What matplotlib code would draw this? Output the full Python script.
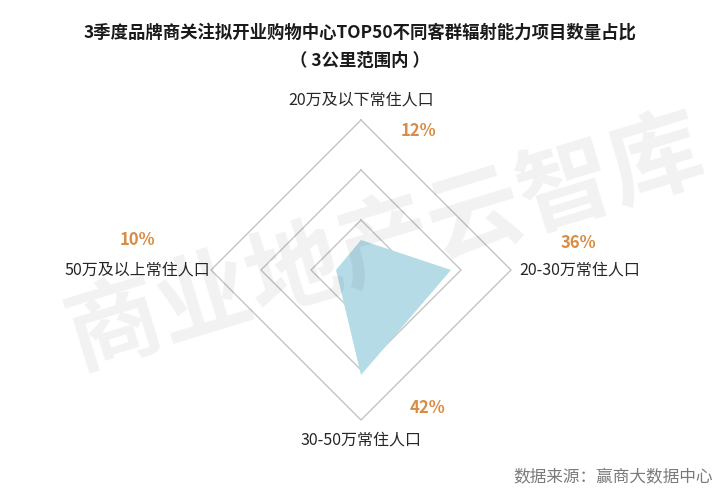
import numpy as np
import matplotlib
matplotlib.use('Agg')
import matplotlib.pyplot as plt

plt.rcParams['font.family'] = ['Noto Sans CJK SC', 'DejaVu Sans']

# data
categories = ['20万及以下常住人口', '20-30万常住人口', '30-50万常住人口', '50万及以上常住人口']
values = [0.12, 0.36, 0.42, 0.10]
value_labels = ['12%', '36%', '42%', '10%']
grid_levels = [0.2, 0.4, 0.6]

title = '3季度品牌商关注拟开业购物中心TOP50不同客群辐射能力项目数量占比\n（ 3公里范围内 ）'
source = '数据来源：赢商大数据中心'
watermark = '商业地产云智库'

# axes clockwise from top
angles = np.pi / 2 - np.arange(len(categories)) * np.pi / 2

fig = plt.figure(figsize=(7.2, 4.9), dpi=100)
ax = fig.add_axes([0, 0, 1, 1])
ax.set_xlim(-1.444, 1.436)
ax.set_ylim(-0.88, 1.08)
ax.axis('off')

# diamond grid
for lv in grid_levels:
    gx = np.append(lv * np.cos(angles), lv * np.cos(angles[0]))
    gy = np.append(lv * np.sin(angles), lv * np.sin(angles[0]))
    ax.plot(gx, gy, color='#c4c4c4', lw=1.0, zorder=1)

# data polygon
vals = np.array(values)
ax.fill(vals * np.cos(angles), vals * np.sin(angles), color='#b5dbe7', lw=0, zorder=2)

# category labels
lab_r = [0.68, 0.876, 0.68, 0.896]
for cat, a, r in zip(categories, angles, lab_r):
    ax.text(r * np.cos(a), r * np.sin(a), cat, ha='center', va='center',
            fontsize=11.5, color='#262626', zorder=4)

# percentage labels
pct_pos = [(0.228, 0.556), (0.868, 0.108), (0.264, -0.552), (-0.896, 0.12)]
for lab, (px, py) in zip(value_labels, pct_pos):
    ax.text(px, py, lab, ha='center', va='center', fontsize=12,
            fontweight='bold', color='#d98c45', zorder=4)

# watermark
ax.text(0.1, 0.1, watermark, ha='center', va='center', fontsize=68,
        fontweight='bold', color='black', alpha=0.055, rotation=17, zorder=3)

fig.text(0.5, 0.905, title, ha='center', va='center', fontsize=12.5,
         fontweight='bold', color='#1a1a1a', linespacing=1.75)
fig.text(0.99, 0.027, source, ha='right', va='center', fontsize=12,
         color='#7a7a7a')

fig.savefig('out.png', dpi=100, facecolor='white')
